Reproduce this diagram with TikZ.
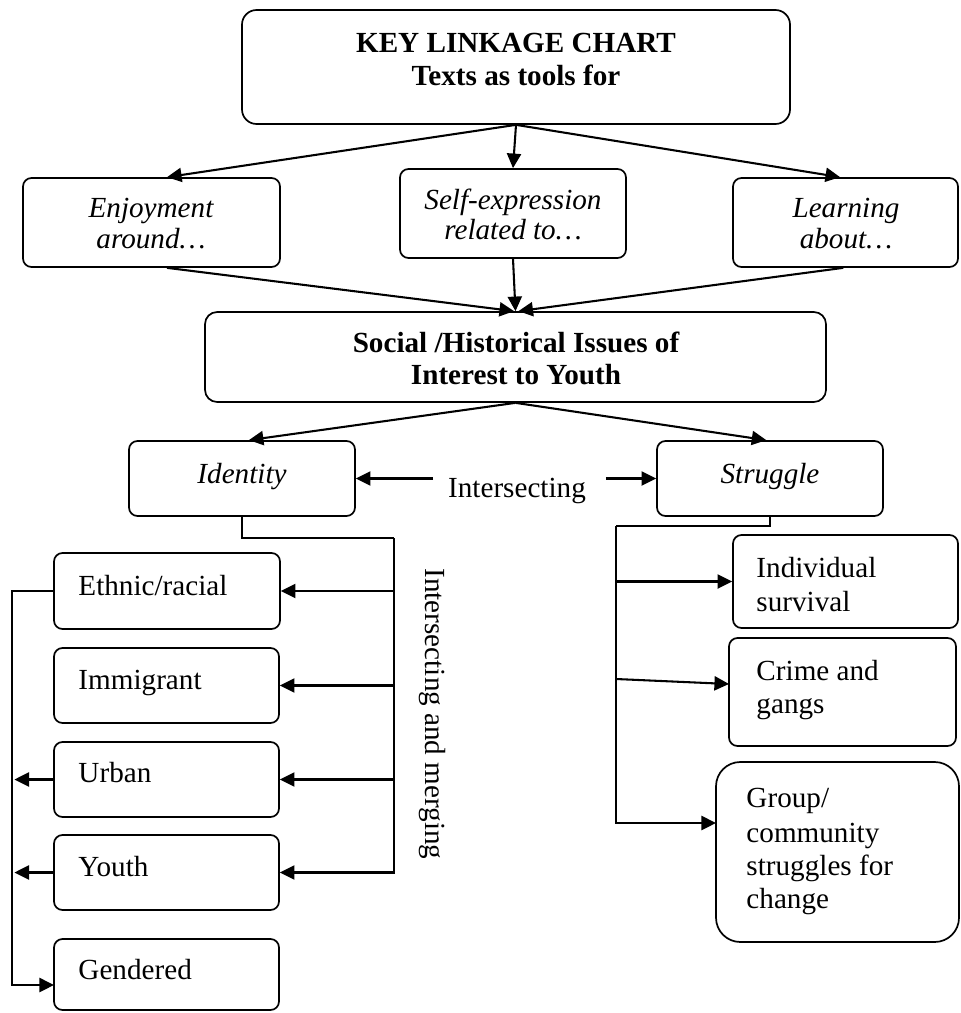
\documentclass[tikz,border=0pt]{standalone}
\usepackage{fontspec}
\setmainfont{Liberation Serif}
\usetikzlibrary{arrows.meta,fit,calc}
\begin{document}
\begin{tikzpicture}[x=0.4115pt,y=-0.4115pt,
  box/.style={draw, line width=0.7pt, rounded corners=3.5pt, inner sep=0pt},
  lbl/.style={font=\fontsize{12}{14}\selectfont, inner sep=0pt},
  arr/.style={line width=0.85pt, -{Triangle[length=6pt,width=5.8pt]}},
  ln/.style={line width=0.85pt}]
\useasboundingbox (0,0) rectangle (961,1013);

% boxes
\node[box, rounded corners=6pt, fit={(242,10)(790,124)}] (top) {};
\node[box, fit={(23,178)(280,267)}] (enj) {};
\node[box, fit={(400,169)(626,258)}] (self) {};
\node[box, fit={(733,178)(958,267)}] (learn) {};
\node[box, rounded corners=5pt, fit={(205,312)(826,402)}] (soc) {};
\node[box, fit={(129,441)(355,516)}] (id) {};
\node[box, fit={(657,441)(883,516)}] (str) {};
\node[box, fit={(54,553)(280,629)}] (eth) {};
\node[box, fit={(54,648)(279,723)}] (imm) {};
\node[box, fit={(54,742)(279,817)}] (urb) {};
\node[box, fit={(54,835)(279,910)}] (you) {};
\node[box, fit={(54,939)(279,1010)}] (gen) {};
\node[box, fit={(733,535)(958,628)}] (ind) {};
\node[box, fit={(729,638)(956,746)}] (crime) {};
\node[box, rounded corners=10pt, fit={(716,762)(959,942)}] (grp) {};

% texts
\node[lbl, anchor=base] (t1) at (516,53) {\bfseries KEY LINKAGE CHART};
\node[lbl, anchor=base] (t2) at (516,86) {\bfseries Texts as tools for};
\node[lbl, anchor=base] (e1) at (151,217) {\itshape Enjoyment};
\node[lbl, anchor=base] (e2) at (151,248) {\itshape around…};
\node[lbl, anchor=base] (s1) at (513,209) {\itshape Self-expression};
\node[lbl, anchor=base] (s2) at (513,239) {\itshape related to…};
\node[lbl, anchor=base] (l1) at (846,217) {\itshape Learning};
\node[lbl, anchor=base] (l2) at (846,248) {\itshape about…};
\node[lbl, anchor=base] (o1) at (516,352) {\bfseries Social /Historical Issues of};
\node[lbl, anchor=base] (o2) at (516,384) {\bfseries Interest to Youth};
\node[lbl, anchor=base] (it) at (242,483) {\itshape Identity};
\node[lbl, anchor=base] (st) at (770,483) {\itshape Struggle};
\node[lbl, anchor=base] (int) at (517,497) {Intersecting};
\node[lbl, rotate=-90, anchor=base west] (im) at (425,568) {Intersecting and merging};
\node[lbl, anchor=base west] (eth t) at (78,595) {Ethnic/racial};
\node[lbl, anchor=base west] (imm t) at (78,689) {Immigrant};
\node[lbl, anchor=base west] (urb t) at (78,782) {Urban};
\node[lbl, anchor=base west] (you t) at (78,876) {Youth};
\node[lbl, anchor=base west] (gen t) at (78,979) {Gendered};
\node[lbl, anchor=base west] (ind1) at (756,577) {Individual};
\node[lbl, anchor=base west] (ind2) at (756,611) {survival};
\node[lbl, anchor=base west] (cr1) at (756,680) {Crime and};
\node[lbl, anchor=base west] (cr2) at (756,713) {gangs};
\node[lbl, anchor=base west] (g1) at (746,807) {Group/};
\node[lbl, anchor=base west] (g2) at (746,842) {community};
\node[lbl, anchor=base west] (g3) at (746,875) {struggles for};
\node[lbl, anchor=base west] (g4) at (746,908) {change};

% top arrows
\draw[arr] (top.south) -- ($(enj.north west)!0.56!(enj.north east)$);
\draw[arr] (top.south) -- (self.north);
\draw[arr] (top.south) -- ($(learn.north west)!0.476!(learn.north east)$);
\draw[arr] ($(enj.south west)!0.56!(enj.south east)$) -- ([xshift=-0.6pt]soc.north);
\draw[arr] (self.south) -- (soc.north);
\draw[arr] ($(learn.south west)!0.49!(learn.south east)$) -- ([xshift=1.2pt]soc.north);
\draw[arr] (soc.south) -- ($(id.north west)!0.53!(id.north east)$);
\draw[arr] (soc.south) -- ([xshift=-1.5pt]str.north);
\draw[arr] ([xshift=-6pt]int.west |- id.east) -- (id.east);
\draw[arr] ([xshift=8pt]int.east |- str.west) -- (str.west);

% identity branch
\coordinate (jl) at (394,538);
\draw[ln] (id.south) |- (jl);
\draw[arr] (jl) |- (you.east);
\draw[arr] (jl |- eth.east) -- (eth.east);
\draw[arr] (jl |- imm.east) -- (imm.east);
\draw[arr] (jl |- urb.east) -- (urb.east);

% left loop
\coordinate (lc) at (12,985);
\coordinate (gl) at (54,985);
\draw[arr] (eth.west) -| (lc) -- (gl);
\draw[arr] (urb.west) -- ([xshift=1pt]urb.west -| lc);
\draw[arr] (you.west) -- ([xshift=1pt]you.west -| lc);

% struggle branch
\coordinate (rc) at (616,526);
\coordinate (ga) at (716,823);
\coordinate (cs) at (616,679);
\coordinate (ce) at (729,684);
\draw[ln] (str.south) |- (rc);
\draw[arr] (rc) |- (ga);
\draw[arr] (rc |- ind.west) -- (ind.west);
\draw[arr] (cs) -- (ce);
\end{tikzpicture}
\end{document}
